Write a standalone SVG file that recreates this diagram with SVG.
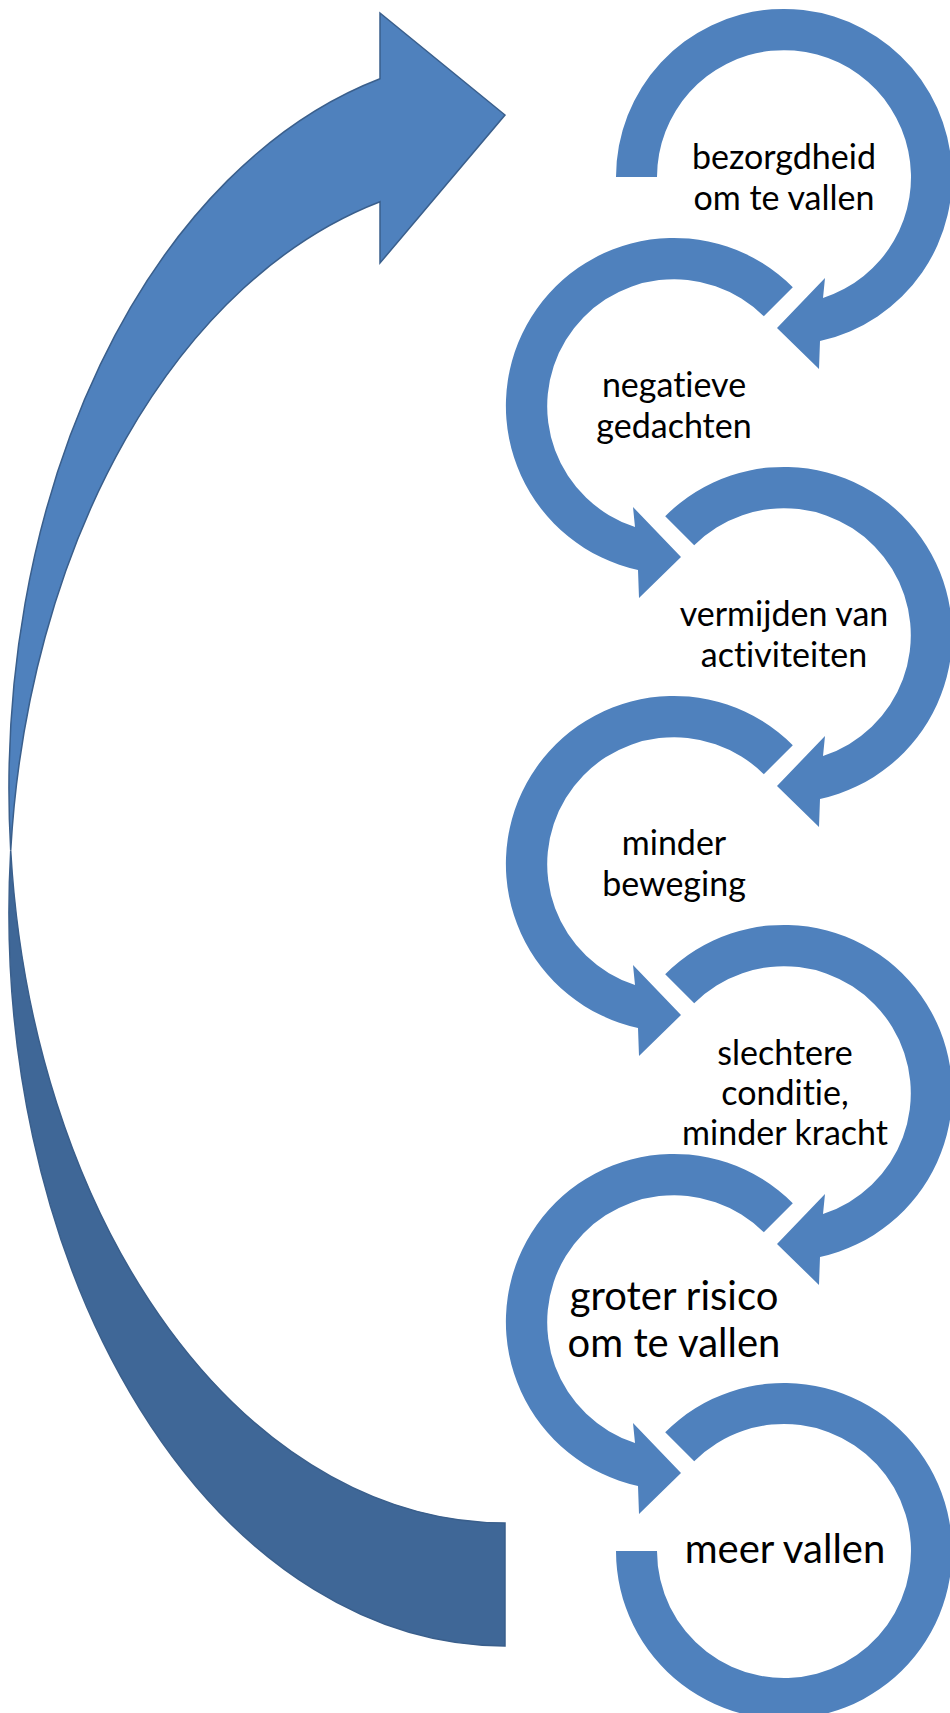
<svg xmlns="http://www.w3.org/2000/svg" xmlns:xlink="http://www.w3.org/1999/xlink" width="950" height="1713" viewBox="0 0 950 1713">
<style>
.ring{fill:#4F81BD;stroke:none}
.t{font-family:Lato,"Open Sans","Liberation Sans",sans-serif;fill:#000;text-anchor:middle;font-variant-ligatures:none}
.s{font-size:34px}
.b{font-size:40px}
.light{fill:#4F81BD;stroke:#3A5F8C;stroke-width:1.5;stroke-linejoin:miter}
.dark{fill:#3F6797;stroke:#3A5F8C;stroke-width:1.5}
</style>
<defs>
<path id="arrR" d="M -118.8 -118.8 A 168 168 0 1 1 36 164 L 35 192 L -7 151 L 41 101 L 39 121 A 127 127 0 1 0 -89.8 -89.8 Z"/>
</defs>
<rect width="950" height="1713" fill="#fff"/>
<g id="connectors">
<path class="dark" d="M 10.7 850.5 A 496 734 0 0 0 505 1646 L 505 1523 A 496 734 0 0 1 10.7 850.5 Z"/>
<path class="light" d="M 380 13 L 505 115 L 380 263 L 380 201.7 A 496 734 0 0 0 10.7 850.5 A 496 734 0 0 1 380 78.7 Z"/>
</g>
<g id="node1">
<path class="ring" transform="translate(784,177)" d="M -168 0 A 168 168 0 1 1 36 164 L 35 192 L -7 151 L 41 101 L 39 121 A 127 127 0 1 0 -127 0 Z"/>
<text class="t s" x="784" y="169">bezorgdheid</text>
<text class="t s" x="784" y="210">om te vallen</text>
</g>
<g id="node2">
<use class="ring" xlink:href="#arrR" href="#arrR" transform="translate(674,406) scale(-1,1)"/>
<text class="t s" x="674" y="397">negatieve</text>
<text class="t s" x="674" y="438">gedachten</text>
</g>
<g id="node3">
<use class="ring" xlink:href="#arrR" href="#arrR" transform="translate(784,635)"/>
<text class="t s" x="784" y="626">vermijden van</text>
<text class="t s" x="784" y="667">activiteiten</text>
</g>
<g id="node4">
<use class="ring" xlink:href="#arrR" href="#arrR" transform="translate(674,864) scale(-1,1)"/>
<text class="t s" x="674" y="855">minder</text>
<text class="t s" x="674" y="896">beweging</text>
</g>
<g id="node5">
<use class="ring" xlink:href="#arrR" href="#arrR" transform="translate(784,1093)"/>
<text class="t s" x="785" y="1065">slechtere</text>
<text class="t s" x="785" y="1105">conditie,</text>
<text class="t s" x="785" y="1145">minder kracht</text>
</g>
<g id="node6">
<use class="ring" xlink:href="#arrR" href="#arrR" transform="translate(674,1322) scale(-1,1)"/>
<text class="t b" x="674" y="1310">groter risico</text>
<text class="t b" x="674" y="1357">om te vallen</text>
</g>
<g id="node7">
<path class="ring" transform="translate(784,1551)" d="M -118.8 -118.8 A 168 168 0 1 1 -168 0 L -127 0 A 127 127 0 1 0 -89.8 -89.8 Z"/>
<text class="t b" x="785" y="1563">meer vallen</text>
</g>
</svg>
